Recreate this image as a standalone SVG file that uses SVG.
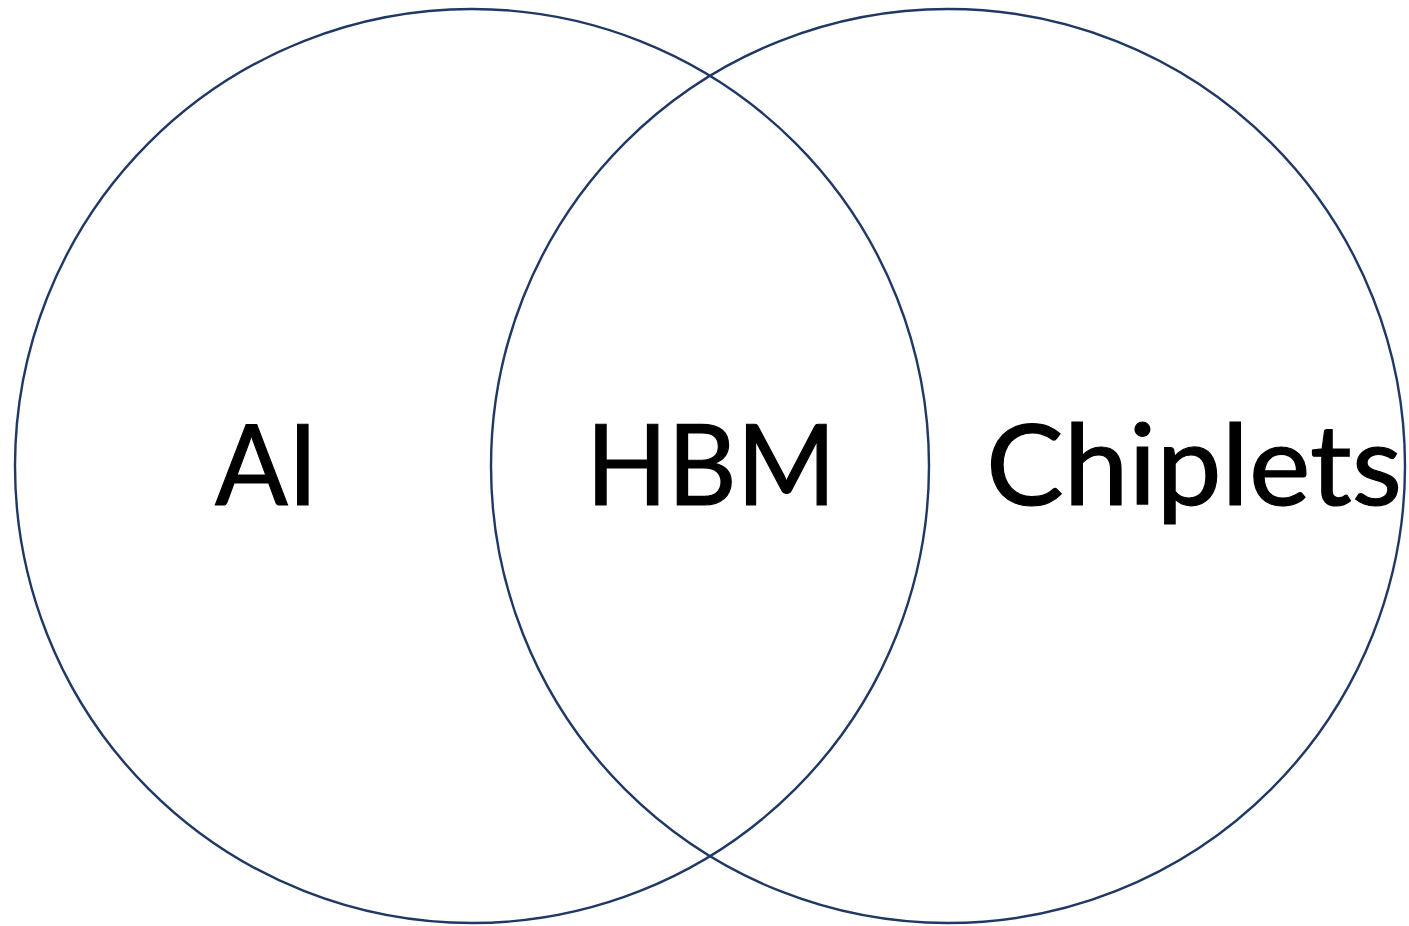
<svg xmlns="http://www.w3.org/2000/svg" width="1409" height="926" viewBox="0 0 1409 926">
  <style>
    .set { fill: none; stroke: #1f3864; stroke-width: 2.4; }
    .label { font-family: "Lato", "Open Sans", "Liberation Sans", sans-serif; font-size: 112px; fill: #000000; stroke: #000000; stroke-width: 1.2; }
  </style>
  <rect width="1409" height="926" fill="#ffffff"/>
  <g id="set-ai">
    <circle class="set" cx="472" cy="466" r="457"/>
    <text class="label" x="215" y="505" textLength="103" lengthAdjust="spacingAndGlyphs">AI</text>
  </g>
  <g id="set-chiplets">
    <circle class="set" cx="948" cy="466" r="457"/>
    <text class="label" x="986" y="505" textLength="416" lengthAdjust="spacingAndGlyphs">Chiplets</text>
  </g>
  <g id="overlap-hbm">
    <text class="label" x="586" y="505" textLength="250" lengthAdjust="spacingAndGlyphs">HBM</text>
  </g>
</svg>
